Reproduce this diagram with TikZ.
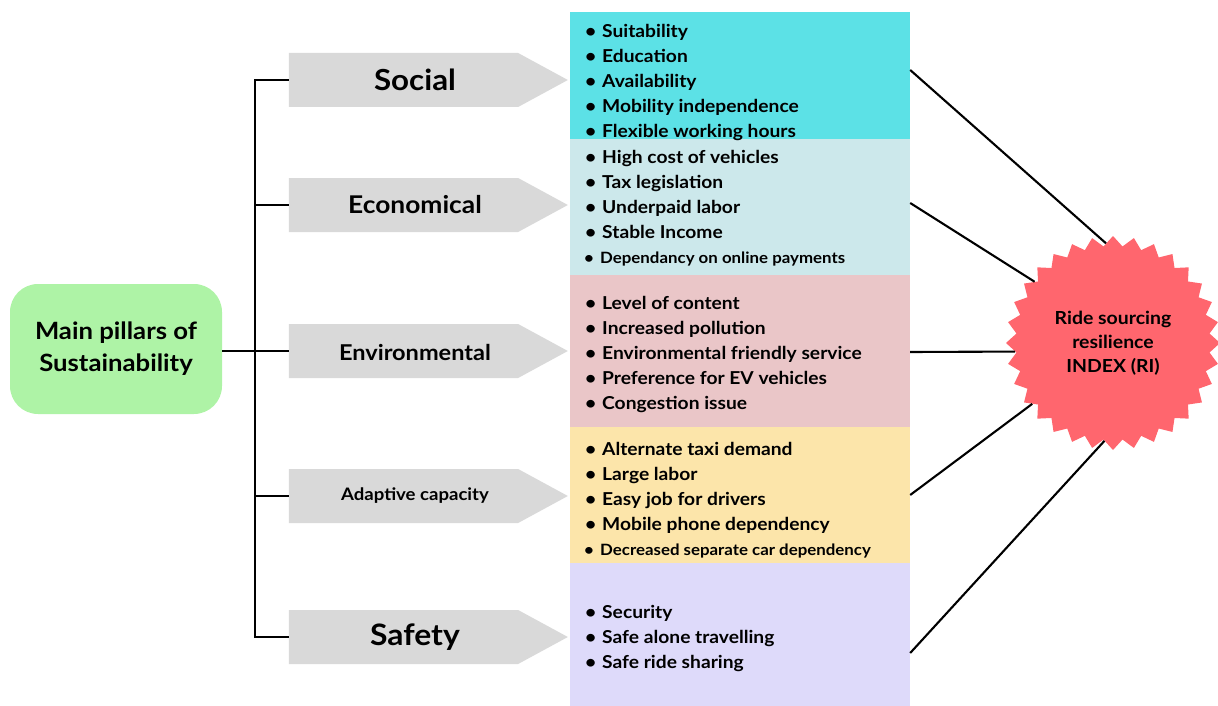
\documentclass[tikz,border=0pt]{standalone}
\usepackage{fontspec}
\setmainfont{Lato}[FakeStretch=1.08]
\usetikzlibrary{shapes.geometric,shapes.symbols,calc}

\definecolor{pillargreen}{HTML}{AEF3A6}
\definecolor{arrowgray}{HTML}{D9D9D9}
\definecolor{socbg}{HTML}{5CE1E6}
\definecolor{ecobg}{HTML}{CCE8EB}
\definecolor{envbg}{HTML}{EAC6C8}
\definecolor{adabg}{HTML}{FCE5AA}
\definecolor{safbg}{HTML}{DEDAFA}
\definecolor{indexred}{HTML}{FF666E}

% bullet helpers
\newcommand{\itm}{\makebox[17pt][l]{•}}
\newcommand{\smallitm}[1]{\hspace*{-1pt}{\fontsize{15.6}{25}\selectfont\makebox[16pt][l]{•}#1}}

\begin{document}
\begin{tikzpicture}[x=1pt,y=-1pt,
  pillar/.style={rectangle, rounded corners=28pt, fill=pillargreen, minimum width=212pt,
    minimum height=130pt, align=center, font=\bfseries\fontsize{23.8}{32}\selectfont},
  arrowbox/.style={signal, signal to=east, signal pointer angle=57, fill=arrowgray,
    minimum width=279pt, minimum height=54pt, inner sep=0pt},
  arrowlabel/.style={font=\bfseries\fontsize{#1}{#1}\selectfont, inner sep=0pt},
  listbox/.style={rectangle, minimum width=340pt, minimum height=#1, inner sep=0pt},
  listtext/.style={anchor=west, align=left, inner sep=0pt,
    font=\bfseries\fontsize{17.8}{25}\selectfont},
  link/.style={line width=2.1pt, black},
]
\useasboundingbox (0,0) rectangle (1218,706);

% category boxes with their factors
\node[listbox=127pt, fill=socbg] (socB) at (740,75.5) {};
\node[listbox=136pt, fill=ecobg] (ecoB) at (740,207) {};
\node[listbox=152pt, fill=envbg] (envB) at (740,351) {};
\node[listbox=136pt, fill=adabg] (adaB) at (740,495) {};
\node[listbox=143pt, fill=safbg] (safB) at (740,634.5) {};

\node[listtext] (socL) at (585,82.5) {\itm Suitability\\ \itm Education\\ \itm Availability\\
  \itm Mobility independence\\ \itm Flexible working hours};
\node[listtext] (ecoL) at (585,208) {\itm High cost of vehicles\\ \itm Tax legislation\\
  \itm Underpaid labor\\ \itm Stable Income\\ \smallitm{Dependancy on online payments}};
\node[listtext] (envL) at (585,354) {\itm Level of content\\ \itm Increased pollution\\
  \itm Environmental friendly service\\ \itm Preference for EV vehicles\\ \itm Congestion issue};
\node[listtext] (adaL) at (585,500) {\itm Alternate taxi demand\\ \itm Large labor\\
  \itm Easy job for drivers\\ \itm Mobile phone dependency\\ \smallitm{Decreased separate car dependency}};
\node[listtext] (safL) at (585,639) {\itm Security\\ \itm Safe alone travelling\\ \itm Safe ride sharing};

% pillar arrows
\node[arrowbox] (socA) at (403.5,80) {};
\node[arrowbox] (ecoA) at (403.5,205) {};
\node[arrowbox] (envA) at (403.5,351) {};
\node[arrowbox] (adaA) at (403.5,496) {};
\node[arrowbox] (safA) at (403.5,637) {};
\node[arrowlabel=29] (socT) at (415,80) {Social};
\node[arrowlabel=24.4] (ecoT) at (415,205) {Economical};
\node[arrowlabel=21.8] (envT) at (415,352) {Environmental};
\node[arrowlabel=17.2] (adaT) at (415,496) {Adaptive capacity};
\node[arrowlabel=29.5] (safT) at (415,637) {Safety};

% root node
\node[pillar] (main) at (116,349) {Main pillars of\\Sustainability};

% resilience index
\node[star, star points=32, star point height=10pt, minimum size=214pt, inner sep=0pt,
  fill=indexred, align=center, font=\bfseries\fontsize{18}{24}\selectfont] (ri) at (1113,343)
  {Ride sourcing\\resilience\\INDEX (RI)};

% tree connectors
\draw[link] (main.east |- envA.west) -- (envA.west);
\draw[link] (socA.west) -- ++(-34,0) |- (safA.west);
\draw[link] (ecoA.west) -- ++(-34,0);
\draw[link] (adaA.west) -- ++(-34,0);

% links into the index
\draw[link] ([yshift=5.5pt]socB.east) -- (ri.94.6);
\draw[link] ([yshift=4pt]ecoB.east) -- (ri.142.4);
\draw[link] ([yshift=-1pt]envB.east) -- (ri.185.5);
\draw[link] (adaB.east) -- (ri.217.6);
\draw[link] ([yshift=-18.5pt]safB.east) -- (ri.265.5);
\end{tikzpicture}
\end{document}
